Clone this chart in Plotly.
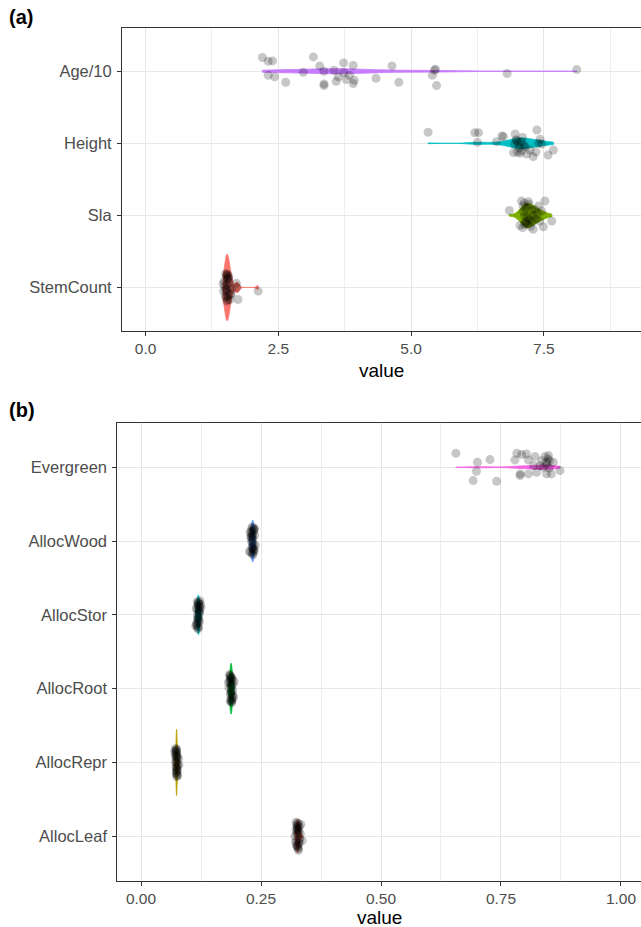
import numpy as np
import plotly.graph_objects as go

# ---------------- DATA: panel (a) ----------------
cats_a = ["StemCount", "Sla", "Height", "Age/10"]
colors_a = ["#F8766D", "#7CAE00", "#00BFC4", "#C77CFF"]

age_vals = [2.20, 2.31, 2.39, 2.31, 2.43, 2.64, 2.97, 3.16, 3.28, 3.36, 3.36, 3.36, 3.55, 3.59,
            3.63, 3.73, 3.73, 3.78, 3.84, 3.91, 3.91, 3.93, 4.34, 4.64, 4.77, 5.40, 5.44, 5.46,
            5.48, 6.81, 8.12]
age_jit = [0.19, 0.139, 0.143, -0.056, -0.079, -0.153, -0.014, 0.199, 0.074, 0.0, -0.176, -0.199,
           0.014, -0.139, -0.079, 0.116, -0.019, -0.116, -0.056, 0.079, -0.171, -0.125, -0.097,
           0.074, -0.153, -0.056, 0.014, 0.028, -0.199, -0.032, 0.023]

height_vals = [5.32, 6.20, 6.27, 6.25, 6.61, 6.71, 6.74, 6.96, 6.99, 7.02, 7.08, 6.93, 7.05, 7.08,
               7.18, 7.30, 7.37, 7.43, 7.40, 7.46, 7.58, 7.68, 7.24, 7.15, 7.00, 6.98, 7.04, 7.10,
               7.12, 6.95, 7.35]
height_jit = [0.153, 0.148, 0.148, 0.014, 0.023, 0.102, 0.093, 0.13, 0.037, 0.0, 0.023, -0.13,
              -0.139, -0.102, -0.148, -0.185, 0.185, 0.056, 0.0, -0.009, -0.162, -0.093, -0.093,
              -0.046, -0.12, 0.05, -0.06, 0.08, -0.03, -0.01, -0.12]

sla_vals = [6.85, 7.08, 7.21, 7.11, 7.14, 7.18, 7.05, 7.14, 7.30, 7.33, 7.40, 7.46, 7.52, 7.49,
            7.65, 7.24, 7.30, 7.12, 7.15, 7.17, 7.20, 7.22, 7.25, 7.27, 7.10, 7.13, 7.35, 7.38,
            7.19, 7.28, 7.42]
sla_jit = [0.069, 0.199, 0.19, 0.13, -0.009, -0.079, -0.139, -0.125, -0.194, 0.083, 0.13, 0.06,
           0.199, -0.157, -0.079, -0.056, 0.0, 0.05, -0.1, 0.1, -0.03, 0.15, -0.15, 0.07, -0.17,
           0.17, -0.05, 0.02, -0.12, -0.09, -0.08]

stem_vals = [1.48, 1.52, 1.54, 1.53, 1.56, 1.57, 1.51, 1.50, 1.59, 1.53, 1.55, 1.47, 1.58, 1.54,
             1.52, 1.56, 1.60, 1.49, 1.53, 1.57, 1.51, 1.55, 1.46, 1.61, 1.54, 1.62, 1.72, 1.71,
             1.74, 2.12, 1.52]
stem_jit = [0.088, 0.157, 0.181, 0.181, 0.111, 0.157, -0.028, -0.12, -0.167, -0.19, -0.12, -0.051,
            0.0, 0.04, -0.14, 0.13, -0.1, 0.02, -0.06, 0.07, 0.19, -0.17, 0.05, -0.09, 0.12,
            -0.03, 0.0, 0.06, -0.167, -0.051, -0.02]

series_a = [stem_vals, sla_vals, height_vals, age_vals]
jit_a = [stem_jit, sla_jit, height_jit, age_jit]

# ---------------- DATA: panel (b) ----------------
cats_b = ["AllocLeaf", "AllocRepr", "AllocRoot", "AllocStor", "AllocWood", "Evergreen"]
colors_b = ["#F8766D", "#B79F00", "#00BA38", "#00BFC4", "#619CFF", "#F564E3"]

ever_vals = [0.656, 0.701, 0.699, 0.692, 0.727, 0.741, 0.783, 0.779, 0.790, 0.793, 0.803, 0.807,
             0.807, 0.821, 0.818, 0.824, 0.831, 0.842, 0.845, 0.845, 0.849, 0.851, 0.855, 0.859,
             0.873, 0.838, 0.845, 0.790, 0.835, 0.850, 0.848]
ever_jit = [0.19, 0.068, -0.054, -0.18, 0.104, -0.19, 0.19, 0.1, -0.09, 0.172, 0.18, 0.1, -0.09,
            0.145, 0.023, -0.068, 0.023, 0.145, 0.068, -0.09, 0.158, 0.09, -0.09, 0.068, -0.045,
            0.0, 0.045, -0.113, 0.09, -0.01, 0.113]

wood_vals = [0.231, 0.234, 0.229, 0.236, 0.232, 0.233, 0.230, 0.235, 0.228, 0.237, 0.233, 0.231,
             0.234, 0.232, 0.236, 0.229, 0.233, 0.235, 0.230, 0.232, 0.238, 0.227, 0.234, 0.231,
             0.233, 0.236, 0.232, 0.230, 0.235, 0.233, 0.226]
wood_jit = [0.18, -0.12, 0.05, 0.16, -0.17, 0.02, 0.11, -0.05, -0.15, 0.08, 0.19, -0.09, 0.13,
            -0.02, -0.13, 0.07, -0.19, 0.15, 0.0, 0.09, -0.06, 0.12, -0.16, 0.04, -0.1, 0.17,
            -0.07, 0.14, -0.11, 0.06, -0.14]

stor_vals = [0.119, 0.121, 0.117, 0.123, 0.118, 0.120, 0.116, 0.122, 0.119, 0.124, 0.118, 0.120,
             0.115, 0.121, 0.119, 0.117, 0.122, 0.120, 0.118, 0.125, 0.119, 0.121, 0.116, 0.120,
             0.118, 0.122, 0.119, 0.114, 0.121, 0.120, 0.117]
stor_jit = [0.16, -0.1, 0.07, 0.19, -0.18, 0.03, -0.14, 0.11, -0.05, 0.14, 0.0, -0.16, 0.09,
            -0.08, 0.12, -0.12, 0.05, 0.17, -0.03, 0.1, -0.19, 0.06, -0.11, 0.15, -0.07, 0.02,
            0.13, -0.15, 0.08, -0.04, 0.18]

root_vals = [0.188, 0.186, 0.190, 0.185, 0.189, 0.187, 0.191, 0.184, 0.188, 0.192, 0.186, 0.189,
             0.187, 0.183, 0.190, 0.188, 0.186, 0.193, 0.187, 0.189, 0.185, 0.188, 0.191, 0.186,
             0.188, 0.190, 0.182, 0.187, 0.189, 0.186, 0.194]
root_jit = [0.04, 0.17, -0.11, 0.09, -0.18, 0.13, -0.03, 0.19, -0.14, 0.06, -0.08, 0.15, -0.16,
            0.01, 0.11, -0.05, 0.18, -0.12, 0.07, -0.19, 0.12, -0.01, -0.09, 0.16, 0.03, -0.15,
            0.08, -0.06, 0.14, -0.17, 0.1]

repr_vals = [0.074, 0.075, 0.073, 0.076, 0.074, 0.072, 0.075, 0.074, 0.077, 0.073, 0.074, 0.075,
             0.071, 0.074, 0.076, 0.073, 0.074, 0.075, 0.072, 0.074, 0.078, 0.073, 0.075, 0.074,
             0.070, 0.076, 0.074, 0.073, 0.075, 0.074, 0.079]
repr_jit = [0.14, -0.08, 0.06, -0.17, 0.18, 0.01, -0.12, 0.09, -0.04, 0.16, -0.15, 0.03, 0.11,
            -0.19, 0.07, -0.06, 0.13, -0.1, 0.19, -0.02, 0.05, -0.14, 0.1, -0.07, 0.15, -0.18,
            0.0, 0.08, -0.11, 0.17, -0.03]

leaf_vals = [0.326, 0.328, 0.324, 0.330, 0.325, 0.327, 0.323, 0.329, 0.326, 0.331, 0.325, 0.328,
             0.322, 0.327, 0.333, 0.326, 0.324, 0.329, 0.327, 0.321, 0.330, 0.325, 0.328, 0.326,
             0.336, 0.324, 0.327, 0.329, 0.323, 0.326, 0.332]
leaf_jit = [0.1, 0.17, -0.06, 0.13, -0.14, 0.05, 0.19, -0.1, 0.08, -0.03, 0.15, -0.17, -0.08,
            0.02, 0.16, 0.11, -0.12, 0.07, -0.15, 0.0, -0.05, 0.14, -0.19, 0.18, -0.06, 0.04,
            0.12, -0.09, 0.09, -0.13, 0.03]

series_b = [leaf_vals, repr_vals, root_vals, stor_vals, wood_vals, ever_vals]
jit_b = [leaf_jit, repr_jit, root_jit, stor_jit, wood_jit, ever_jit]

# ---------------- STYLE ----------------
widths_a = [0.92, 0.34, 0.15, 0.07]
bw_scale_a = [1.6, 1.3, 1.5, 1.2]
widths_b = [0.45, 0.9, 0.69, 0.54, 0.57, 0.06]
bw_scale_b = [1.0, 1.0, 1.0, 1.0, 1.0, 1.0]

W, H = 641, 927
FONT = "Liberation Sans, Arial, Helvetica, sans-serif"


def nrd0(v):
    v = np.asarray(v, float)
    sd = v.std(ddof=1)
    iqr = np.subtract(*np.percentile(v, [75, 25]))
    lo = min(sd, iqr / 1.34) if iqr > 0 else sd
    return 0.9 * lo * len(v) ** (-0.2)


fig = go.Figure()


def add_panel(series, jits, colors, widths, bws, xa, ya):
    for i, (vals, col, w, b) in enumerate(zip(series, colors, widths, bws)):
        pos = i + 1
        fig.add_trace(go.Violin(
            x=vals, y0=pos, orientation="h", xaxis=xa, yaxis=ya,
            fillcolor=col, line=dict(color=col, width=0.8), opacity=1,
            points=False, spanmode="hard", bandwidth=nrd0(vals) * b,
            scalemode="width", width=w, side="both", showlegend=False,
            hoverinfo="skip"))
    for i, (vals, jit) in enumerate(zip(series, jits)):
        pos = i + 1
        fig.add_trace(go.Scatter(
            x=vals, y=[pos + j for j in jit], mode="markers", xaxis=xa, yaxis=ya,
            marker=dict(size=9, color="rgba(0,0,0,0.22)", line=dict(width=0)),
            showlegend=False, hoverinfo="skip"))


add_panel(series_a, jit_a, colors_a, widths_a, bw_scale_a, "x", "y")
add_panel(series_b, jit_b, colors_b, widths_b, bw_scale_b, "x2", "y2")

axis_common = dict(
    showline=True, linecolor="#333333", linewidth=1,
    ticks="outside", ticklen=4, tickwidth=1, tickcolor="#333333",
    gridcolor="#E6E6E6", gridwidth=1.3, zeroline=False,
)
xfont = dict(family=FONT, size=15.5, color="#4D4D4D")
yfont = dict(family=FONT, size=16.5, color="#4D4D4D")
minor_grid = dict(showgrid=True, gridcolor="#EEEEEE", gridwidth=0.8, ticklen=0)

top_y0, top_y1 = 1 - 330.7 / H, 1 - 28 / H
bot_y0, bot_y1 = 1 - 880.5 / H, 1 - 423 / H

fig.update_layout(
    width=W, height=H, margin=dict(l=0, r=0, t=0, b=0),
    paper_bgcolor="white", plot_bgcolor="white",
    xaxis=dict(**axis_common, domain=[122 / W, 1], range=[-0.444, 9.33], tickfont=xfont,
               tick0=0, dtick=2.5, tickformat=".1f", mirror=True, anchor="y",
               ticklabelstandoff=0, minor=dict(dtick=1.25, tick0=0, **minor_grid)),
    yaxis=dict(**axis_common, domain=[top_y0, top_y1], range=[0.4, 4.6], tickfont=yfont,
               tickmode="array", tickvals=[1, 2, 3, 4], ticktext=cats_a, anchor="x",
               ticklabelstandoff=2),
    xaxis2=dict(**axis_common, domain=[117.3 / W, 1], range=[-0.0494, 1.0417], tickfont=xfont,
                tick0=0, dtick=0.25, tickformat=".2f", mirror=True, anchor="y2",
                ticklabelstandoff=0, minor=dict(dtick=0.125, tick0=0, **minor_grid)),
    yaxis2=dict(**axis_common, domain=[bot_y0, bot_y1], range=[0.4, 6.6], tickfont=yfont,
                tickmode="array", tickvals=[1, 2, 3, 4, 5, 6], ticktext=cats_b, anchor="x2",
                ticklabelstandoff=2),
    annotations=[
        dict(text="value", x=(122 + 641) / 2 / W, y=1 - 370 / H, xref="paper", yref="paper",
             showarrow=False, font=dict(family=FONT, size=19, color="black"),
             xanchor="center", yanchor="middle"),
        dict(text="value", x=(117.3 + 641) / 2 / W, y=1 - 917 / H, xref="paper", yref="paper",
             showarrow=False, font=dict(family=FONT, size=19, color="black"),
             xanchor="center", yanchor="middle"),
        dict(text="<b>(a)</b>", x=7 / W, y=1 - 17 / H, xref="paper", yref="paper",
             showarrow=False, font=dict(family=FONT, size=20, color="black"),
             xanchor="left", yanchor="middle"),
        dict(text="<b>(b)</b>", x=7 / W, y=1 - 410 / H, xref="paper", yref="paper",
             showarrow=False, font=dict(family=FONT, size=20, color="black"),
             xanchor="left", yanchor="middle"),
    ],
)

fig.write_html("out.html", config={"displayModeBar": False},
               post_script="document.body.style.margin='0';document.body.style.overflow='hidden';")
